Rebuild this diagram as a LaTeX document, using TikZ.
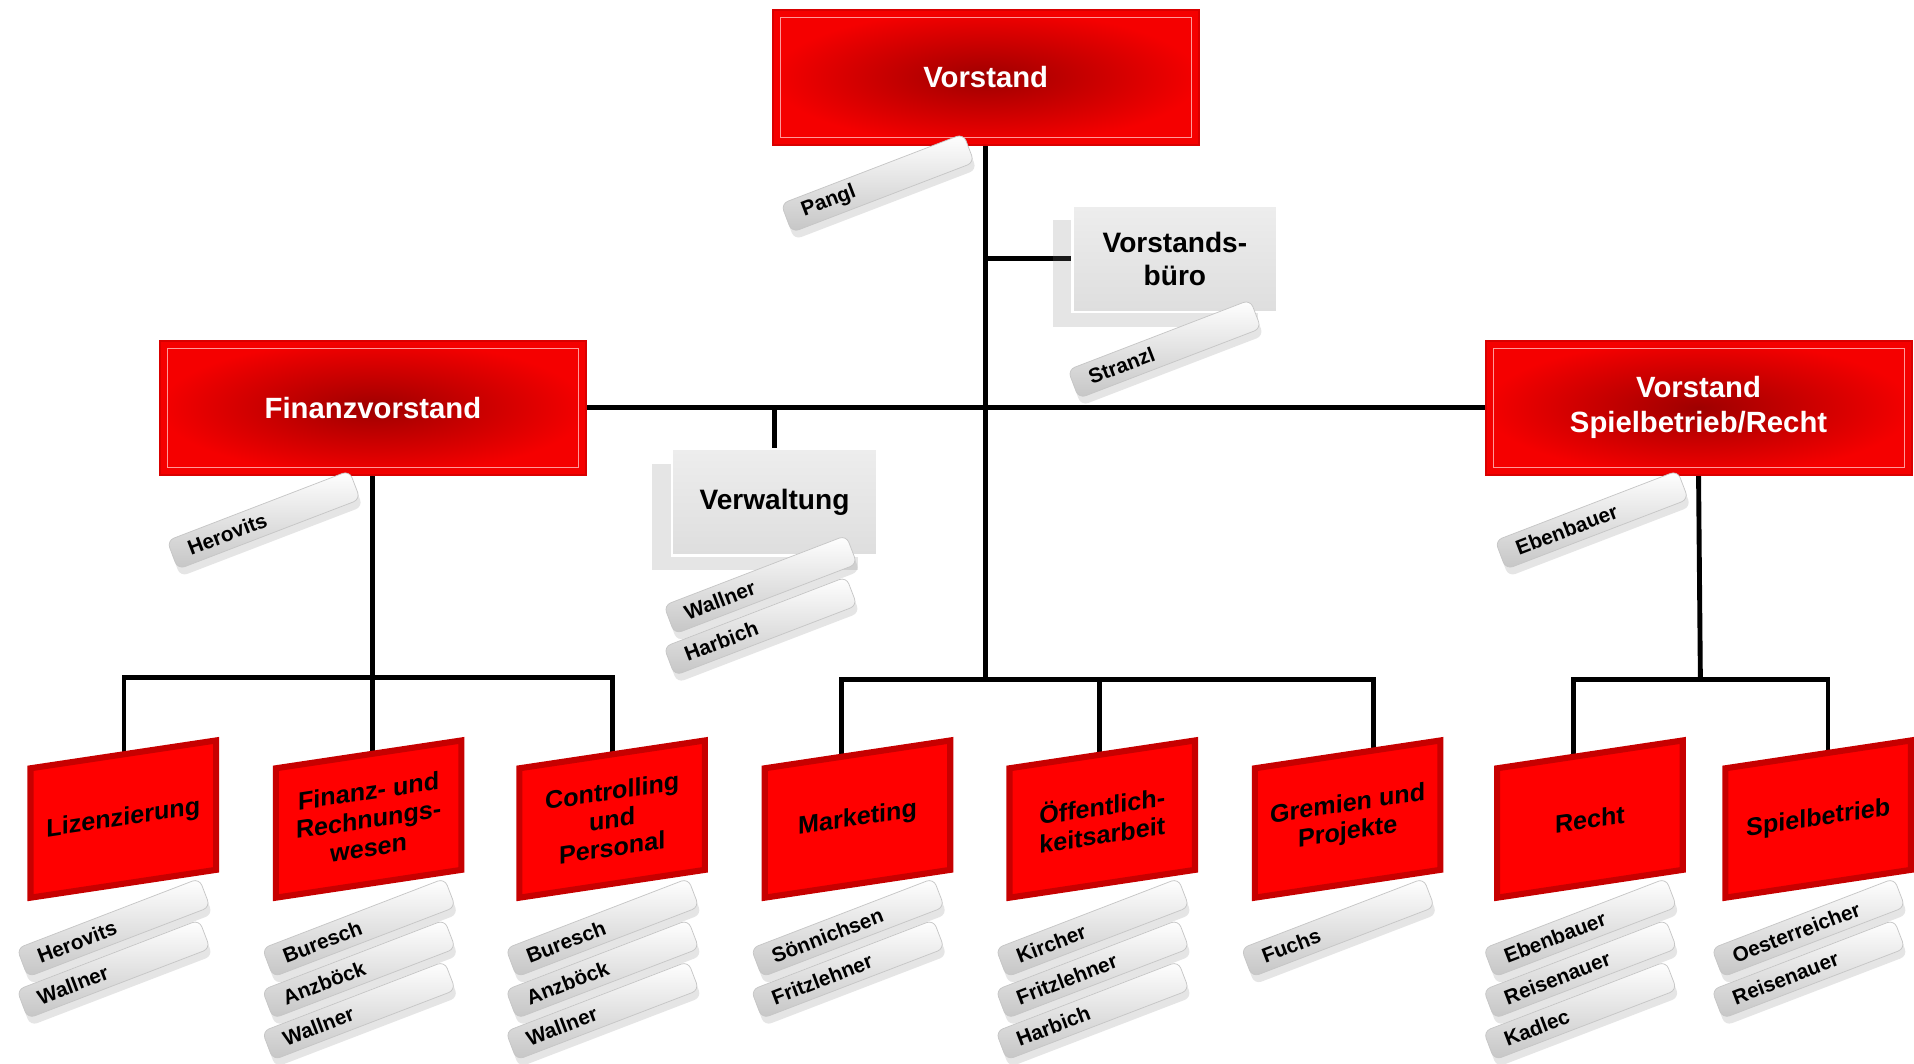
\documentclass[tikz,border=0pt]{standalone}
\usepackage{fontspec}
\setmainfont{Liberation Sans}
\usetikzlibrary{shadows,backgrounds}
\begin{document}
\begin{tikzpicture}
    [ x=0.5pt, y=-0.5pt
    , every node/.style={font=\bfseries}
    , conn/.style={line width=2pt}
    , headbox/.style={draw=red!85!black, line width=0.8pt,
        inner color=red!62!black, outer color=red!96!black,
        minimum width=174.5pt, minimum height=55pt, text=white, align=center,
        font=\bfseries\fontsize{12}{14.5}\selectfont,
        path picture={\draw [red!40!white, line width=0.3pt]
          ([shift={(3pt,-3pt)}]path picture bounding box.north west) rectangle
          ([shift={(-3pt,3pt)}]path picture bounding box.south east);}}
    , staffbox/.style={top color=gray!14, bottom color=gray!26, draw=white,
        line width=1pt, minimum width=84pt, minimum height=43.5pt, align=center,
        font=\bfseries\fontsize{11.5}{13.5}\selectfont,
        drop shadow={shadow xshift=-8pt, shadow yshift=-6pt, opacity=0.2}}
    , unit/.style={fill=red, draw=red!78!black, line width=2.5pt,
        minimum width=76pt, minimum height=53pt, yslant=0.15, align=center,
        font=\bfseries\fontsize{10.3}{11.6}\selectfont}
    , tag/.style={rounded corners=3pt, rotate=21, top color=white,
        middle color=gray!12, bottom color=gray!45, draw=gray!45,
        line width=0.3pt, minimum width=80pt, minimum height=12.5pt,
        text width=66pt, align=left, inner xsep=7pt, inner ysep=1.5pt,
        font=\bfseries\fontsize{8.5}{9}\selectfont,
        drop shadow={shadow xshift=1pt, shadow yshift=-3pt, opacity=0.2}}
    ]
    \useasboundingbox (0,0) rectangle (1568,871);

    % board
    \node [headbox] (vorstand) at (807.5,63.5) {Vorstand};
    \node [headbox] (finanz) at (305.5,334) {Finanzvorstand};
    \node [headbox] (spiel) at (1391.5,334) {Vorstand\\Spielbetrieb/Recht};
    \node [staffbox] (buero) at (962.5,212) {Vorstands-\\büro};
    \node [staffbox] (verw) at (634.5,411.5) {Verwaltung};

    \node [tag] (pangl) at (719,150) {Pangl};
    \node [tag] (stranzl) at (954,286) {Stranzl};
    \node [tag] (herovits) at (216,426) {Herovits};
    \node [tag] (ebenbauer) at (1304,426) {Ebenbauer};
    \node [tag] (verw-t2) at (623,513) {Harbich};
    \node [tag] (verw-t1) at (623,479) {Wallner};

    % departments
    \node [unit] (liz) at (101,671) {Lizenzierung};
    \node [unit] (frw) at (302,671) {Finanz- und\\Rechnungs-\\wesen};
    \node [unit] (ctl) at (501.5,671) {Controlling\\und\\Personal};
    \node [unit] (mkt) at (702.5,671) {Marketing};
    \node [unit] (oea) at (903,671) {Öffentlich-\\keitsarbeit};
    \node [unit] (gup) at (1104,671) {Gremien und\\Projekte};
    \node [unit] (rec) at (1302.5,671) {Recht};
    \node [unit] (spb) at (1489.5,671) {Spielbetrieb};

    % staff of the departments
    \node [tag] (liz-t2) at (93,794) {Wallner};
    \node [tag] (liz-t1) at (93,760) {Herovits};
    \node [tag] (frw-t3) at (294,828) {Wallner};
    \node [tag] (frw-t2) at (294,794) {Anzböck};
    \node [tag] (frw-t1) at (294,760) {Buresch};
    \node [tag] (ctl-t3) at (493.5,828) {Wallner};
    \node [tag] (ctl-t2) at (493.5,794) {Anzböck};
    \node [tag] (ctl-t1) at (493.5,760) {Buresch};
    \node [tag] (mkt-t2) at (694.5,794) {Fritzlehner};
    \node [tag] (mkt-t1) at (694.5,760) {Sönnichsen};
    \node [tag] (oea-t3) at (895,828) {Harbich};
    \node [tag] (oea-t2) at (895,794) {Fritzlehner};
    \node [tag] (oea-t1) at (895,760) {Kircher};
    \node [tag] (gup-t1) at (1096,760) {Fuchs};
    \node [tag] (rec-t3) at (1294.5,828) {Kadlec};
    \node [tag] (rec-t2) at (1294.5,794) {Reisenauer};
    \node [tag] (rec-t1) at (1294.5,760) {Ebenbauer};
    \node [tag] (spb-t2) at (1481.5,794) {Reisenauer};
    \node [tag] (spb-t1) at (1481.5,760) {Oesterreicher};

    \coordinate (liz-in) at (101.6,671);
    \coordinate (frw-in) at (305,671);
    \coordinate (ctl-in) at (501.5,671);
    \coordinate (mkt-in) at (689.5,671);
    \coordinate (oea-in) at (901,671);
    \coordinate (gup-in) at (1125,671);
    \coordinate (rec-in) at (1289,671);
    \coordinate (spb-in) at (1497.5,671);
    \coordinate (finbus) at (305.5,555);
    \coordinate (midbus) at (808,557);
    \coordinate (spielbus) at (1393,557);

    \begin{scope}[on background layer]
      \fill [white] (0,0) rectangle (1568,871);
      \draw [conn] (vorstand.south) -- (vorstand.south |- midbus);
      \draw [conn] (vorstand.south |- buero) -- (buero.west);
      \draw [conn] (finanz.east) -- (spiel.west);
      \draw [conn] (verw.north) -- (verw.north |- finanz.east);
      \draw [conn] (finanz.south) -- (finbus);
      \draw [conn] (liz-in) |- (finbus) -| (ctl-in);
      \draw [conn] (frw-in) -- (frw-in |- finbus);
      \draw [conn] (mkt-in) |- (midbus) -| (gup-in);
      \draw [conn] (oea-in) -- (oea-in |- midbus);
      \draw [conn] (spiel.south) -- (spielbus);
      \draw [conn] (rec-in) |- (spielbus) -| (spb-in);
    \end{scope}
\end{tikzpicture}
\end{document}
